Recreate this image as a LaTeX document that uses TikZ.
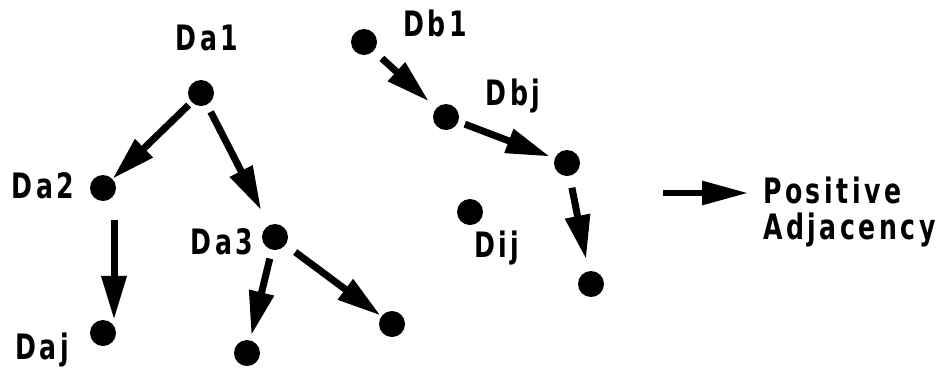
\documentclass[tikz,border=0pt]{standalone}
\usepackage{fontspec}
\newfontfamily\lblfont{DejaVu Sans}[FakeStretch=0.72,LetterSpace=10]
\usetikzlibrary{arrows.meta}
\begin{document}
\begin{tikzpicture}[x=1pt,y=-1pt,
  vertex/.style={circle,fill=black,inner sep=0pt,minimum size=26pt},
  lbl/.style={font=\lblfont\bfseries\fontsize{35}{36}\selectfont,inner sep=0pt},
  adj/.style={line width=7pt,-{Triangle[length=44pt 0,width=24pt 0]}}]
\useasboundingbox (0,0) rectangle (948,368);
% vertices of the a-tree
\node[vertex] (Da1) at (201,93) {};
\node[vertex] (Da2) at (103,188) {};
\node[vertex] (Da3) at (275,237) {};
\node[vertex] (Daj) at (103,333) {};
\node[vertex] (Da3l) at (247,353) {};
\node[vertex] (Da3r) at (392,324) {};
% vertices of the b-chain
\node[vertex] (Db1) at (364,42) {};
\node[vertex] (Dbj) at (446,117) {};
\node[vertex] (Db3) at (567,163) {};
\node[vertex] (Db4) at (591,284) {};
\node[vertex] (Dij) at (470,212) {};
% labels
\node[lbl] (tDa1) at (207,38) {Da1};
\node[lbl] (tDa2) at (43,186) {Da2};
\node[lbl] (tDa3) at (222,242) {Da3};
\node[lbl] (tDaj) at (42,350) {Daj};
\node[lbl] (tDb1) at (435,23) {Db1};
\node[lbl] (tDbj) at (513,96) {Dbj};
\node[lbl] (tDij) at (497,248) {Dij};
% adjacency arrows
\draw[adj,shorten <=4pt] (Da1) -- (Da2);
\draw[adj,shorten <=8pt,shorten >=17pt] (Da1) -- (Da3);
\draw[adj,shorten <=19pt] ([xshift=11pt]Da2.south) -- ([xshift=11pt]Daj.north);
\draw[adj,shorten <=9pt,shorten >=5pt] (Da3) -- (Da3l);
\draw[adj,shorten <=12pt,shorten >=1pt] (Da3) -- (Da3r);
\draw[adj,shorten <=11pt,shorten >=10pt] (Db1) -- (Dbj);
\draw[adj,shorten <=7pt,shorten >=5pt] (Dbj) -- (Db3);
\draw[adj,shorten <=12pt,shorten >=12pt] (Db3) -- (Db4);
% legend
\coordinate (legS) at (663,193);
\node[lbl,align=left,anchor=west] (legT) at (763,212) {Positive\\Adjacency};
\draw[adj,line width=6pt,-{Triangle[length=46pt 0,width=23pt 0]}] (legS) -- (legS -| 748,0);
\end{tikzpicture}
\end{document}
